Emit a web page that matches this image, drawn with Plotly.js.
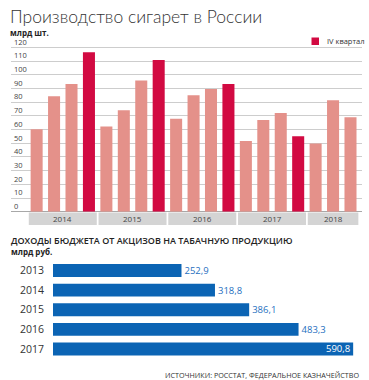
<!DOCTYPE html>
<html>
<head>
<meta charset="utf-8">
<script src="https://cdn.plot.ly/plotly-3.0.1.min.js"></script>
<style>html,body{margin:0;padding:0;background:#fff;}#chart{width:369px;height:380px;}</style>
</head>
<body>
<div id="chart"></div>
<script>
// --- Data: cigarette production, bn pcs, by quarter
const prodYears    = ['2014','2014','2014','2014','2015','2015','2015','2015','2016','2016','2016','2016','2017','2017','2017','2017','2018','2018','2018'];
const prodQuarters = ['I','II','III','IV','I','II','III','IV','I','II','III','IV','I','II','III','IV','I','II','III'];
const prodValues   = [60.1, 84.2, 93.2, 116.4, 62.1, 74.0, 95.7, 110.8, 67.9, 85.0, 89.6, 93.2, 51.6, 66.9, 72.1, 55.0, 49.7, 81.3, 68.9];
const yTickVals    = [0,10,20,30,40,50,60,70,80,90,100,110,120];
const legendLabel  = 'IV квартал';

// --- Data: budget revenue from tobacco excise, bn rub
const exciseYears  = ['2013','2014','2015','2016','2017'];
const exciseValues = [252.9, 318.8, 386.1, 483.3, 590.8];

const W = 369, H = 380;
const px = v => v / W;
const py = v => 1 - v / H;

const LIGHT = '#e4918a', RED = '#d20a42', BLUE = '#0b64b4';
const FONT = 'Open Sans, Noto Sans, sans-serif';

const xCats = prodYears.map((y, i) => y + ' ' + prodQuarters[i]);
const colors = prodQuarters.map(q => q === 'IV' ? RED : LIGHT);
const maxExcise = Math.max(...exciseValues);

const traces = [
  {
    type: 'bar', x: xCats, y: prodValues, xaxis: 'x', yaxis: 'y',
    marker: {color: colors}, hoverinfo: 'x+y', showlegend: false
  },
  {
    type: 'bar', orientation: 'h', y: exciseYears, x: exciseValues, xaxis: 'x2', yaxis: 'y2',
    marker: {color: BLUE}, width: 0.66,
    text: exciseValues.map(v => v.toFixed(1).replace('.', ',')),
    textposition: exciseValues.map(v => v === maxExcise ? 'inside' : 'outside'),
    insidetextanchor: 'end', constraintext: 'none',
    textfont: {family: FONT, size: 9.5, color: exciseValues.map(v => v === maxExcise ? '#ffffff' : '#1f6fc0')},
    cliponaxis: false, showlegend: false
  }
];

// year bands under the top chart
const shapes = [];
const annotations = [];
const groups = [];
prodYears.forEach((y, i) => {
  const g = groups[groups.length - 1];
  if (g && g.year === y) g.last = i; else groups.push({year: y, first: i, last: i});
});
groups.forEach(g => {
  shapes.push({type: 'rect', xref: 'x', yref: 'paper', x0: g.first - 0.45, x1: g.last + 0.45,
    y0: py(225), y1: py(212.5), fillcolor: '#d4d4d4', line: {width: 0}, layer: 'below'});
  annotations.push({xref: 'x', yref: 'paper', x: (g.first + g.last) / 2, y: py(218.8), text: g.year,
    showarrow: false, font: {family: FONT, size: 8, color: '#444'}, xanchor: 'center', yanchor: 'middle'});
});

// legend (manual)
shapes.push({type: 'rect', xref: 'paper', yref: 'paper', x0: px(311.5), x1: px(319), y0: py(45), y1: py(37.5),
  fillcolor: RED, line: {width: 0}});
annotations.push({xref: 'paper', yref: 'paper', x: px(325), y: py(41.5), text: legendLabel, showarrow: false,
  xanchor: 'left', yanchor: 'middle', font: {family: FONT, size: 7.5, color: '#333'}});

// titles
annotations.push({xref: 'paper', yref: 'paper', x: px(9), y: py(16.5), text: 'Производство сигарет в России',
  showarrow: false, xanchor: 'left', yanchor: 'middle', borderpad: 0,
  font: {family: 'Lato, Open Sans, sans-serif', weight: 300, size: 17.5, color: '#333'}});
annotations.push({xref: 'paper', yref: 'paper', x: px(9), y: py(32.5), text: '<b>млрд шт.</b>',
  showarrow: false, xanchor: 'left', yanchor: 'middle', borderpad: 0, font: {family: FONT, size: 8, color: '#222'}});
annotations.push({xref: 'paper', yref: 'paper', x: px(9), y: py(240), text: 'ДОХОДЫ БЮДЖЕТА ОТ АКЦИЗОВ НА ТАБАЧНУЮ ПРОДУКЦИЮ',
  showarrow: false, xanchor: 'left', yanchor: 'middle', font: {family: FONT, weight: 600, size: 9, color: '#222'}});
annotations.push({xref: 'paper', yref: 'paper', x: px(9), y: py(251.5), text: '<b>млрд руб.</b>',
  showarrow: false, xanchor: 'left', yanchor: 'middle', font: {family: FONT, size: 8, color: '#222'}});
annotations.push({xref: 'paper', yref: 'paper', x: px(361), y: py(374.5), text: 'ИСТОЧНИКИ: РОССТАТ, ФЕДЕРАЛЬНОЕ КАЗНАЧЕЙСТВО',
  showarrow: false, xanchor: 'right', yanchor: 'middle', font: {family: FONT, size: 7.2, color: '#333'}});

// top y axis: 0 at px 211.7, 120 at px 47.3; extra headroom so the "120" label fits inside
const yPxPerUnit = (211.7 - 47.3) / 120;
const yTop = 140;
const layout = {
  width: W, height: H,
  margin: {l: 0, r: 0, t: 0, b: 0},
  paper_bgcolor: '#fff', plot_bgcolor: 'rgba(0,0,0,0)',
  showlegend: false,
  bargap: 0.31,
  xaxis: {domain: [px(11), px(362)], type: 'category', range: [-1.47, 18.66], showticklabels: false,
    showgrid: false, zeroline: false, showline: false, ticks: '', fixedrange: true},
  yaxis: {domain: [py(211.7), py(211.7 - yTop * yPxPerUnit)], range: [0, yTop], tickmode: 'array', tickvals: yTickVals,
    ticktext: yTickVals.map(String),
    ticklabelposition: 'inside top', tickfont: {family: FONT, size: 7.5, color: '#444'},
    showgrid: true, gridcolor: '#cdcdcd', gridwidth: 1,
    zeroline: true, zerolinecolor: '#a8a8a8', zerolinewidth: 1.5, showline: false, ticks: ''},
  xaxis2: {domain: [px(53), px(368)], range: [0, 620], anchor: 'y2', showticklabels: false,
    showgrid: false, zeroline: false, showline: false, ticks: ''},
  yaxis2: {domain: [py(358.8), py(260.7)], anchor: 'x2', type: 'category', autorange: 'reversed',
    tickfont: {family: FONT, size: 10.5, color: '#333'}, ticks: 'outside', ticklen: 6,
    tickcolor: 'rgba(0,0,0,0)', showgrid: false, zeroline: false, showline: false},
  shapes: shapes,
  annotations: annotations
};

Plotly.newPlot('chart', traces, layout, {displayModeBar: false, staticPlot: true});
</script>
</body>
</html>
